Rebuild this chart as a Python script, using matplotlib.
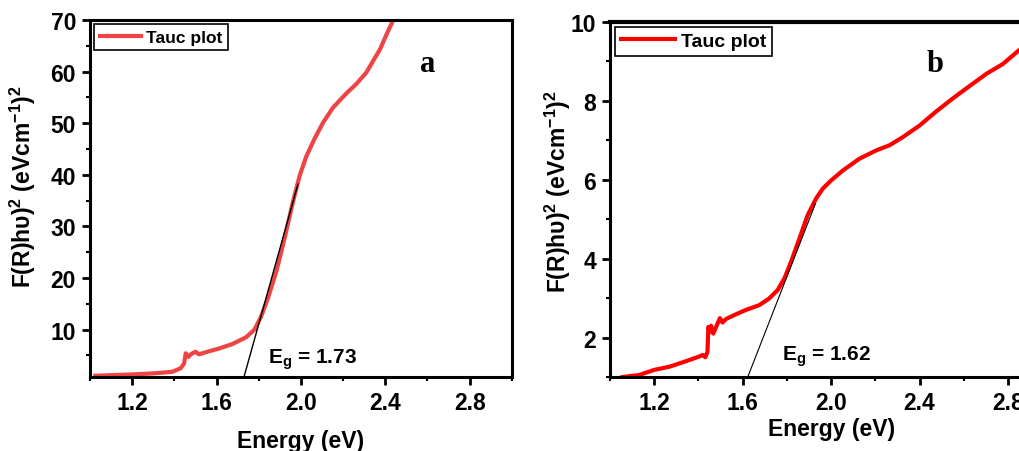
import numpy as np
import matplotlib
matplotlib.use('Agg')
import matplotlib.pyplot as plt
from matplotlib.ticker import MultipleLocator

plt.rcParams['font.family'] = ['Liberation Sans', 'DejaVu Sans']
plt.rcParams['mathtext.fontset'] = 'custom'
plt.rcParams['mathtext.rm'] = 'Liberation Sans:bold'
plt.rcParams['mathtext.it'] = 'Liberation Sans:bold'
plt.rcParams['mathtext.bf'] = 'Liberation Sans:bold'

#### data ####

energy_a = [1.025, 1.2, 1.3, 1.39, 1.43, 1.446, 1.454, 1.467, 1.478, 1.50, 1.517, 1.565, 1.61,
            1.676, 1.74, 1.78, 1.811, 1.843, 1.883, 1.922, 1.962, 1.994, 2.025, 2.065, 2.105,
            2.152, 2.2, 2.224, 2.263, 2.31, 2.343, 2.375, 2.406, 2.438]
tauc_a = [1.05, 1.3, 1.5, 1.8, 2.5, 3.4, 5.4, 4.7, 5.2, 5.7, 5.2, 5.8, 6.3,
          7.2, 8.5, 10.0, 12.5, 16.0, 21.2, 27.6, 34.7, 39.8, 43.5, 47.0, 50.1,
          53.0, 55.1, 56.1, 57.6, 59.8, 62.1, 64.3, 67.2, 70.0]

energy_b = [1.057, 1.132, 1.2, 1.268, 1.328, 1.374, 1.404, 1.419, 1.431, 1.441, 1.445, 1.452,
            1.457, 1.467, 1.487, 1.497, 1.509, 1.525, 1.57, 1.615, 1.675, 1.72, 1.758, 1.789,
            1.819, 1.857, 1.894, 1.932, 1.962, 2.0, 2.053, 2.128, 2.204, 2.264, 2.325, 2.4,
            2.476, 2.551, 2.626, 2.702, 2.777, 2.848, 2.9]
tauc_b = [1.0, 1.05, 1.18, 1.26, 1.37, 1.46, 1.52, 1.56, 1.5, 1.64, 2.27, 2.15,
          2.3, 2.1, 2.36, 2.49, 2.38, 2.47, 2.59, 2.7, 2.82, 2.99, 3.2, 3.5,
          3.92, 4.51, 5.1, 5.52, 5.77, 5.98, 6.23, 6.53, 6.74, 6.87, 7.08, 7.37,
          7.73, 8.06, 8.37, 8.68, 8.93, 9.27, 9.5]

# tangent lines (x from, x to / y from, y to)
fit_a_x = [1.73, 1.986]
fit_a_y = [0.8, 38.2]
fit_b_x = [1.623, 1.929]
fit_b_y = [1.0, 5.39]

eg_a = '1.73'
eg_b = '1.62'

ylabel = 'F(R)h\u03c5)$^2$ (eVcm$^{-1}$)$^2$'

#### figure ####

fig = plt.figure(figsize=(10.19, 4.52), dpi=100, facecolor='w')
ax_a = fig.add_axes([0.0883, 0.1637, 0.414, 0.790])
ax_b = fig.add_axes([0.5986, 0.1637, 0.434, 0.786])


def style_axis(ax, ymin, ymax, yminor, xpad, ylab_xy):
    ax.set_xlim(1.0, 3.0)
    ax.set_ylim(ymin, ymax)
    ax.xaxis.set_minor_locator(MultipleLocator(0.2))
    ax.set_xticks([1.2, 1.6, 2.0, 2.4, 2.8])
    ax.yaxis.set_minor_locator(MultipleLocator(yminor))
    ax.tick_params(which='major', direction='out', length=6, width=2, labelsize=16.5, pad=4)
    ax.tick_params(which='minor', direction='out', length=3, width=1.5)
    for lab in ax.get_xticklabels() + ax.get_yticklabels():
        lab.set_fontweight('bold')
    for side in ['top', 'bottom', 'left', 'right']:
        ax.spines[side].set_linewidth(2.2)
    ax.set_xlabel('Energy (eV)', fontsize=16.5, fontweight='bold', labelpad=xpad)
    ax.set_ylabel(ylabel, fontsize=16.5, fontweight='bold')
    ax.yaxis.set_label_coords(*ylab_xy)


# panel a
ax_a.plot(energy_a, tauc_a, color='#EE4444', linewidth=3, label='Tauc plot')
ax_a.plot(fit_a_x, fit_a_y, color='black', linewidth=1)
ax_a.set_yticks([10, 20, 30, 40, 50, 60, 70])
style_axis(ax_a, 0.8, 70, 5, 11, (-0.123, 0.535))
ax_a.text(1.845, 4.4, '$\\mathregular{E_g}$ = ' + eg_a, fontsize=15, fontweight='bold',
          va='center', ha='left')
ax_a.text(2.6, 61.5, 'a', fontsize=22, fontweight='bold', family='Liberation Serif',
          ha='center', va='center')
leg = ax_a.legend(loc='upper left', bbox_to_anchor=(0.0, 1.0), borderaxespad=0.25,
                  fancybox=False, edgecolor='black', framealpha=1, handlelength=2.4,
                  handletextpad=0.3, borderpad=0.3, prop={'weight': 'bold', 'size': 12.5})
leg.get_frame().set_linewidth(1.2)

# panel b
ax_b.plot(energy_b, tauc_b, color='#FF0000', linewidth=3, label='Tauc plot')
ax_b.plot(fit_b_x, fit_b_y, color='black', linewidth=0.8)
ax_b.set_yticks([2, 4, 6, 8, 10])
style_axis(ax_b, 1.0, 10, 1, 2, (-0.084, 0.524))
ax_b.spines['top'].set_linewidth(3)
ax_b.text(1.78, 1.55, '$\\mathregular{E_g}$ = ' + eg_b, fontsize=15, fontweight='bold',
          va='center', ha='left')
ax_b.text(2.47, 8.95, 'b', fontsize=22, fontweight='bold', family='Liberation Serif',
          ha='center', va='center')
leg = ax_b.legend(loc='upper left', bbox_to_anchor=(0.0, 1.0), borderaxespad=0.25,
                  fancybox=False, edgecolor='black', framealpha=1, handlelength=2.8,
                  handletextpad=0.3, borderpad=0.3, prop={'weight': 'bold', 'size': 14})
leg.get_frame().set_linewidth(1.2)

plt.savefig('out.png', dpi=100)
